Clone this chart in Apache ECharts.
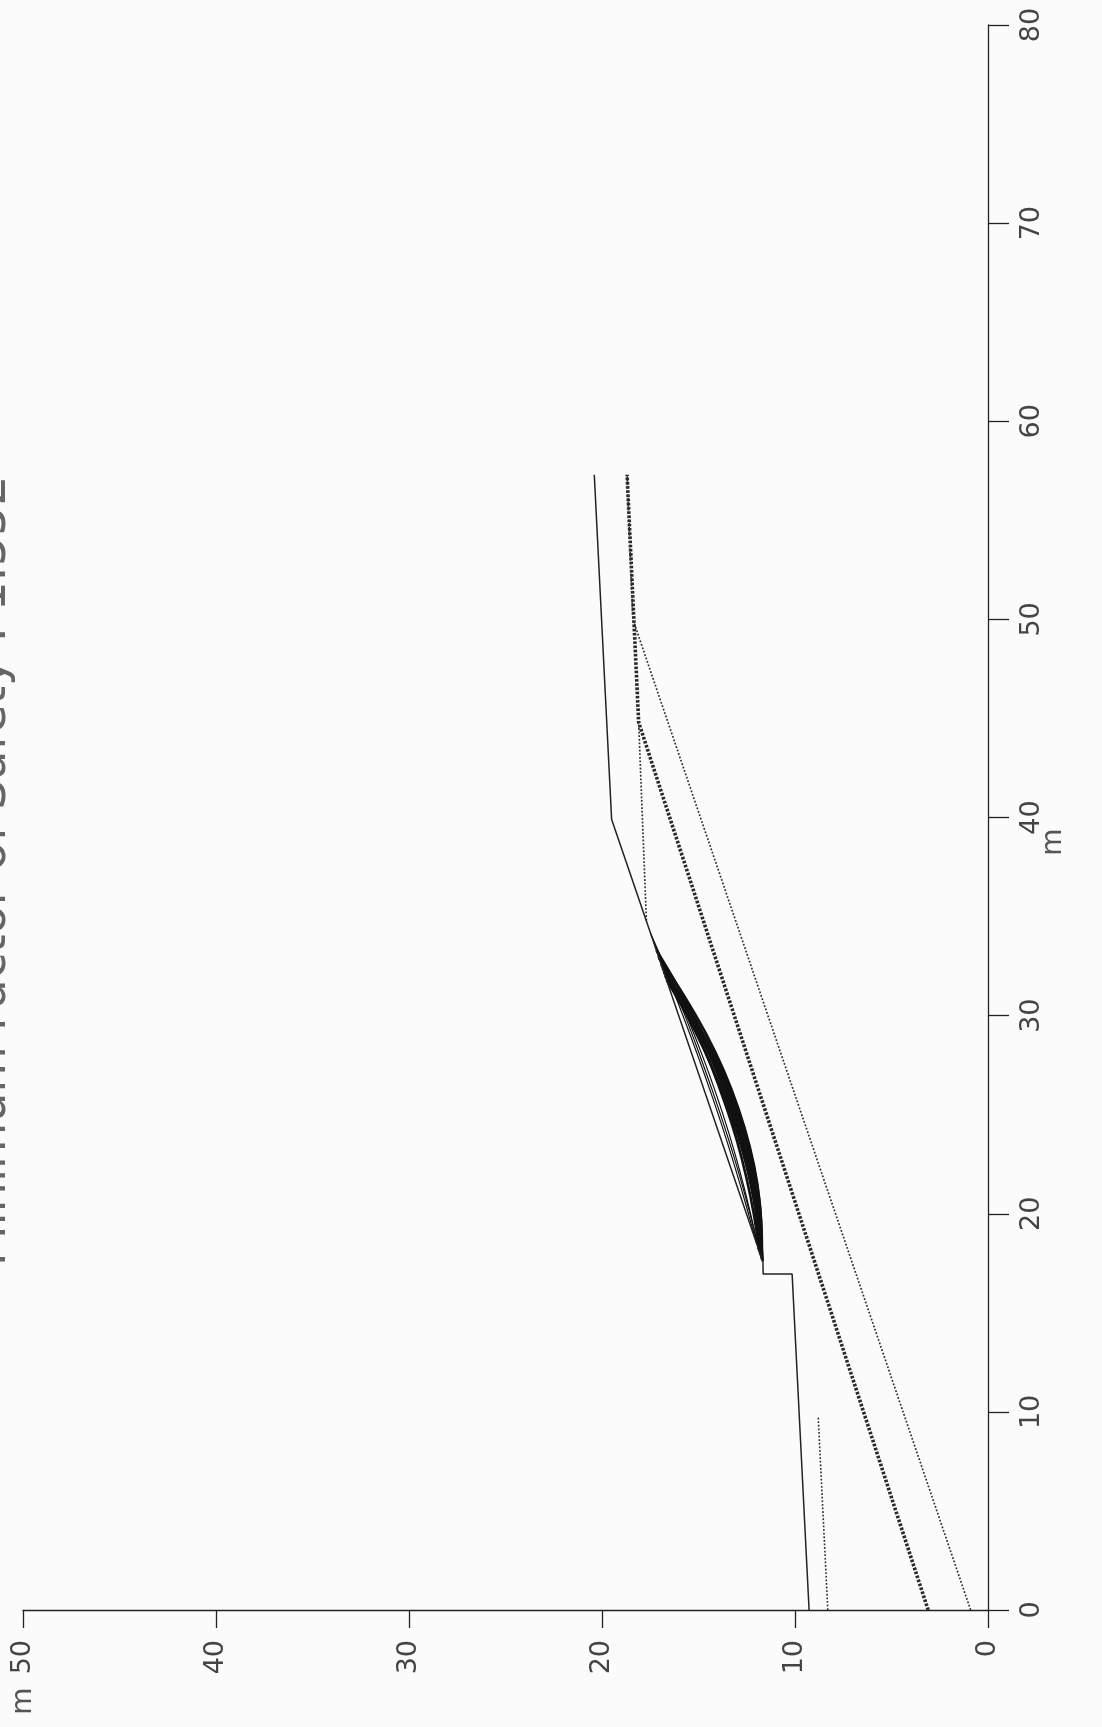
<!DOCTYPE html>
<html>
<head>
<meta charset="utf-8">
<script src="https://cdn.jsdelivr.net/npm/echarts@6/dist/echarts.min.js"></script>
<style>
html,body{margin:0;padding:0;background:#fbfbfc;}
#chart{width:1102px;height:1727px;}
</style>
</head>
<body>
<div id="chart"></div>
<script>
// Chart is shown rotated 90° counter-clockwise: distance (m) runs up the right axis,
// elevation (m) runs leftwards along the bottom axis.
const titleText = 'Minimum Factor of Safety : 1.552';
const distTicks = [0, 10, 20, 30, 40, 50, 60, 70, 80];
const elevTicks = [0, 10, 20, 30, 40, 50];

// ground surface profile (distance, elevation)
const groundX = [0, 16.96, 16.96, 17.57, 39.9, 57.3];
const groundY = [9.27, 10.15, 11.65, 11.66, 19.5, 20.4];

// heavy dotted boundary
const boundAX = [0, 44.8, 57.3];
const boundAY = [3.1, 18.1, 18.7];

// light dotted boundary
const boundBX = [0, 50, 57.3];
const boundBY = [0.9, 18.4, 18.7];

// light dotted link from slope crest
const boundCX = [34.8, 44.8];
const boundCY = [17.7, 18.1];

// short light dotted line at left
const boundDX = [0, 9.8];
const boundDY = [8.3, 8.8];

// trial slip surfaces: [distance, elevation] points
const slipSurfaces = [
  [[17.70,11.71],[19.60,11.75],[21.50,11.95],[23.40,12.35],[25.30,12.93],[27.20,13.68],[29.10,14.62],[31.00,15.74],[32.90,17.04]],
  [[17.80,11.74],[19.63,11.79],[21.45,12.01],[23.28,12.39],[25.10,12.96],[26.93,13.68],[28.75,14.58],[30.58,15.64],[32.40,16.87]],
  [[17.90,11.78],[19.66,11.85],[21.43,12.08],[23.19,12.46],[24.95,13.00],[26.71,13.70],[28.48,14.55],[30.24,15.55],[32.00,16.72]],
  [[17.60,11.67],[19.56,11.86],[21.53,12.19],[23.49,12.66],[25.45,13.28],[27.41,14.03],[29.38,14.94],[31.34,15.99],[33.30,17.18]],
  [[18.00,11.81],[19.83,11.99],[21.65,12.30],[23.48,12.75],[25.30,13.33],[27.13,14.04],[28.95,14.87],[30.78,15.84],[32.60,16.94]],
  [[17.70,11.71],[19.46,11.91],[21.23,12.24],[22.99,12.67],[24.75,13.23],[26.51,13.91],[28.28,14.71],[30.04,15.61],[31.80,16.65]],
  [[18.10,11.85],[19.96,12.13],[21.83,12.52],[23.69,13.01],[25.55,13.62],[27.41,14.32],[29.28,15.13],[31.14,16.06],[33.00,17.08]],
  [[17.80,11.74],[19.60,11.76],[21.40,11.96],[23.20,12.33],[25.00,12.87],[26.80,13.59],[28.60,14.49],[30.40,15.56],[32.20,16.80]],
  [[18.20,11.88],[19.93,11.96],[21.65,12.19],[23.38,12.57],[25.10,13.10],[26.83,13.78],[28.55,14.61],[30.28,15.59],[32.00,16.72]],
  [[18.30,11.92],[20.23,12.36],[22.15,12.86],[24.08,13.43],[26.00,14.07],[27.93,14.78],[29.85,15.56],[31.78,16.41],[33.70,17.32]],
  [[18.50,11.99],[20.38,12.52],[22.25,13.08],[24.13,13.68],[26.00,14.32],[27.88,15.00],[29.75,15.71],[31.63,16.46],[33.50,17.25]],
  [[18.00,11.81],[20.03,12.34],[22.05,12.91],[24.08,13.55],[26.10,14.24],[28.13,14.98],[30.15,15.76],[32.18,16.61],[34.20,17.50]]
];
// the first nine surfaces form the dense band, the rest are shallow trials
const denseCount = 9;

function pairs(xs, ys) { return xs.map((x, i) => [ys[i], x]); }

const FONT = '"DejaVu Sans", "Liberation Sans", sans-serif';
const ink = '#222';

const series = [];
slipSurfaces.forEach((arc, k) => {
  series.push({
    name: 'slip ' + (k + 1), type: 'line', smooth: 0.35, showSymbol: false, silent: true,
    data: arc.map(p => [p[1], p[0]]),
    lineStyle: { color: '#111', width: k < denseCount ? 2.6 : 1.2 }, z: 3
  });
});
series.push({
  name: 'ground', type: 'line', showSymbol: false, silent: true,
  data: pairs(groundX, groundY), lineStyle: { color: ink, width: 1.5 }, z: 4
});
series.push({
  name: 'boundary A', type: 'line', showSymbol: false, silent: true,
  data: pairs(boundAX, boundAY), lineStyle: { color: '#2a2a2a', width: 3.6, type: [2.6, 1.6] }, z: 2
});
series.push({
  name: 'boundary B', type: 'line', showSymbol: false, silent: true,
  data: pairs(boundBX, boundBY), lineStyle: { color: '#333', width: 1.7, type: [1.8, 1.8] }, z: 2
});
series.push({
  name: 'boundary C', type: 'line', showSymbol: false, silent: true,
  data: pairs(boundCX, boundCY), lineStyle: { color: '#333', width: 1.7, type: [1.8, 1.8] }, z: 2
});
series.push({
  name: 'boundary D', type: 'line', showSymbol: false, silent: true,
  data: pairs(boundDX, boundDY), lineStyle: { color: '#333', width: 1.6, type: [1.8, 1.8] }, z: 2
});

const chart = echarts.init(document.getElementById('chart'), null, { renderer: 'canvas' });
chart.setOption({
  backgroundColor: '#fbfbfc',
  animation: false,
  grid: { left: 23, right: 114, top: 25, bottom: 117, containLabel: false },
  xAxis: {
    type: 'value', min: elevTicks[0], max: elevTicks[elevTicks.length - 1], interval: 10,
    inverse: true, position: 'bottom',
    axisLine: { show: true, onZero: false, lineStyle: { color: ink, width: 1.3 } },
    axisTick: { show: true, length: 18, lineStyle: { color: ink, width: 1.3 } },
    axisLabel: { rotate: 90, fontSize: 27, margin: 30, color: '#444', fontFamily: FONT,
      formatter: v => elevTicks.includes(v) ? String(v) : '' },
    splitLine: { show: false }
  },
  yAxis: {
    type: 'value', min: distTicks[0], max: distTicks[distTicks.length - 1], interval: 10,
    position: 'right',
    axisLine: { show: true, onZero: false, lineStyle: { color: ink, width: 1.3 } },
    axisTick: { show: true, length: 21, lineStyle: { color: ink, width: 1.3 } },
    axisLabel: { rotate: 90, fontSize: 27, margin: 30, color: '#444', fontFamily: FONT,
      formatter: v => distTicks.includes(v) ? String(v) : '' },
    splitLine: { show: false }
  },
  graphic: [
    { type: 'text', x: -7, y: 871, rotation: Math.PI / 2, silent: true,
      style: { text: titleText, font: '47.5px ' + FONT, fill: '#666',
        align: 'center', verticalAlign: 'middle', textAlign: 'center', textVerticalAlign: 'middle' } },
    { type: 'text', x: 1054, y: 842, rotation: Math.PI / 2, silent: true,
      style: { text: 'm', font: '28px ' + FONT, fill: '#555',
        align: 'center', verticalAlign: 'middle', textAlign: 'center', textVerticalAlign: 'middle' } },
    { type: 'text', x: 24, y: 1701, rotation: Math.PI / 2, silent: true,
      style: { text: 'm', font: '28px ' + FONT, fill: '#555',
        align: 'center', verticalAlign: 'middle', textAlign: 'center', textVerticalAlign: 'middle' } }
  ],
  series: series
});
</script>
</body>
</html>
